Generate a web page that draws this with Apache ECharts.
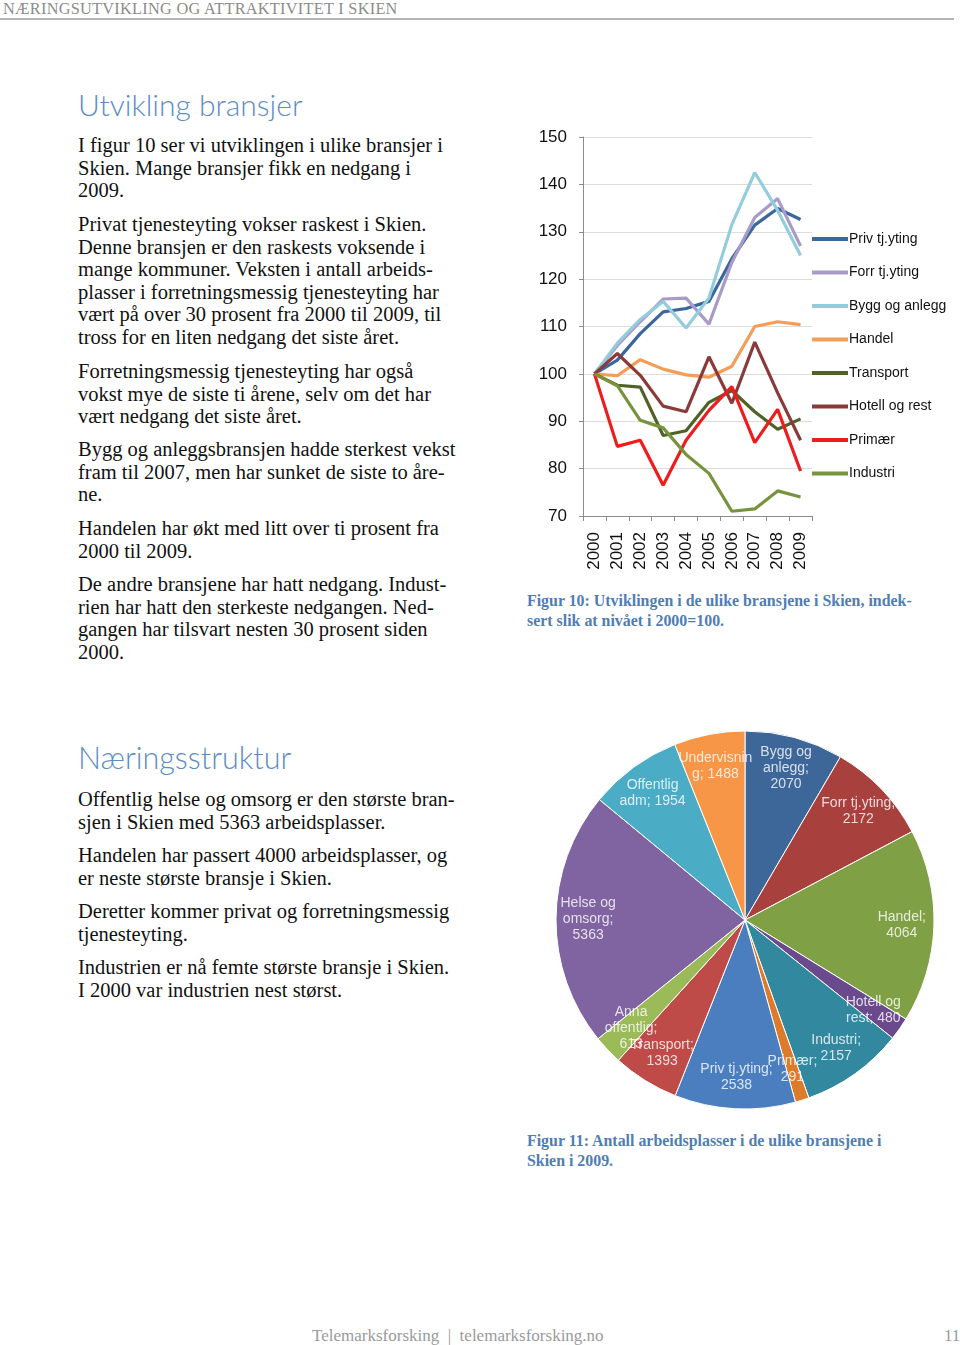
<!DOCTYPE html>
<html>
<head>
<meta charset="utf-8">
<script src="https://cdn.jsdelivr.net/npm/echarts@6/dist/echarts.min.js"></script>
<style>
  html, body { margin:0; padding:0; background:#fff; }
  body { width:960px; height:1345px; position:relative; overflow:hidden; }
  .hdr { position:absolute; left:3px; top:-1px; font-family:"Liberation Serif", serif; font-size:16.3px; color:#8c8c8c; white-space:nowrap; letter-spacing:0.28px; }
  .hline { position:absolute; left:0; top:18px; width:954px; height:2px; background:#b5b5b5; }
  .h1 { position:absolute; left:78px; font-family:Lato, "Open Sans", sans-serif; font-weight:300; color:#5b8cc4; white-space:nowrap; }
  .p { position:absolute; left:78px; font-family:"Liberation Serif", serif; font-size:20.5px; line-height:22.5px; color:#111; white-space:nowrap; }
  .cap { position:absolute; left:527px; font-family:"Liberation Serif", serif; font-weight:bold; font-size:15.9px; line-height:19.5px; color:#4f7db5; white-space:nowrap; }
  .foot { position:absolute; top:1326px; font-family:"Liberation Serif", serif; font-size:17px; color:#9a9a9a; white-space:nowrap; }
  #line { position:absolute; left:520px; top:120px; width:440px; height:470px; }
  #pie { position:absolute; left:540px; top:720px; width:420px; height:400px; }
</style>
</head>
<body>
<div class="hdr">NÆRINGSUTVIKLING OG ATTRAKTIVITET I SKIEN</div>
<div class="hline"></div>

<div class="h1" style="top:86px;font-size:30px;">Utvikling bransjer</div>
<div class="p" style="top:134px;">I figur 10 ser vi utviklingen i ulike bransjer i<br>Skien. Mange bransjer fikk en nedgang i<br>2009.</div>
<div class="p" style="top:213px;">Privat tjenesteyting vokser raskest i Skien.<br>Denne bransjen er den raskests voksende i<br>mange kommuner. Veksten i antall arbeids-<br>plasser i forretningsmessig tjenesteyting har<br>vært på over 30 prosent fra 2000 til 2009, til<br>tross for en liten nedgang det siste året.</div>
<div class="p" style="top:360px;">Forretningsmessig tjenesteyting har også<br>vokst mye de siste ti årene, selv om det har<br>vært nedgang det siste året.</div>
<div class="p" style="top:438px;">Bygg og anleggsbransjen hadde sterkest vekst<br>fram til 2007, men har sunket de siste to åre-<br>ne.</div>
<div class="p" style="top:517px;">Handelen har økt med litt over ti prosent fra<br>2000 til 2009.</div>
<div class="p" style="top:573px;">De andre bransjene har hatt nedgang. Indust-<br>rien har hatt den sterkeste nedgangen. Ned-<br>gangen har tilsvart nesten 30 prosent siden<br>2000.</div>

<div class="h1" style="top:739px;font-size:30.5px;">Næringsstruktur</div>
<div class="p" style="top:788px;">Offentlig helse og omsorg er den største bran-<br>sjen i Skien med 5363 arbeidsplasser.</div>
<div class="p" style="top:844px;">Handelen har passert 4000 arbeidsplasser, og<br>er neste største bransje i Skien.</div>
<div class="p" style="top:900px;">Deretter kommer privat og forretningsmessig<br>tjenesteyting.</div>
<div class="p" style="top:956px;">Industrien er nå femte største bransje i Skien.<br>I 2000 var industrien nest størst.</div>

<div id="line"></div>
<div class="cap" style="top:591px;">Figur 10: Utviklingen i de ulike bransjene i Skien, indek-<br>sert slik at nivået i 2000=100.</div>
<div id="pie"></div>
<div class="cap" style="top:1131px;">Figur 11: Antall arbeidsplasser i de ulike bransjene i<br>Skien i 2009.</div>

<div class="foot" style="left:312px;">Telemarksforsking &nbsp;|&nbsp; telemarksforsking.no</div>
<div class="foot" style="left:944px;">11</div>

<script>
// ---------- Figure 10 data ----------
const years = ['2000','2001','2002','2003','2004','2005','2006','2007','2008','2009'];
const lineNames = ['Priv tj.yting','Forr tj.yting','Bygg og anlegg','Handel','Transport','Hotell og rest','Primær','Industri'];
const privTjyting  = [100, 102.9, 108.5, 113.1, 113.8, 115.3, 124.3, 131.4, 134.9, 132.6];
const forrTjyting  = [100, 106.0, 111.0, 115.8, 116.0, 110.5, 123.5, 133.0, 137.0, 127.0];
const byggAnlegg   = [100, 106.5, 111.5, 115.3, 109.7, 116.0, 131.5, 142.5, 134.5, 125.0];
const handel       = [100, 99.6, 103.0, 101.0, 99.8, 99.3, 101.6, 110.0, 111.0, 110.4];
const transport    = [100, 97.6, 97.2, 87.0, 88.0, 94.0, 96.5, 92.0, 88.3, 90.5];
const hotellRest   = [100, 104.3, 99.7, 93.2, 92.0, 103.6, 93.8, 106.7, 96.0, 86.0];
const primaer      = [100, 84.7, 86.0, 76.5, 86.0, 92.3, 97.3, 85.5, 92.5, 79.5];
const industri     = [100, 97.5, 90.2, 88.6, 83.0, 79.0, 71.0, 71.5, 75.3, 74.0];
const lineValues = [privTjyting, forrTjyting, byggAnlegg, handel, transport, hotellRest, primaer, industri];
const lineColors = ['#3b679c','#a99bc9','#93cddd','#f59d56','#4f6228','#8b3a3a','#ee1c1c','#77933c'];
const yTicks = { min: 70, max: 150, step: 10 };

// ---------- Figure 11 data ----------
const pieNames  = ['Bygg og anlegg','Forr tj.yting','Handel','Hotell og rest','Industri','Primær','Priv tj.yting','Transport','Anna offentlig','Helse og omsorg','Offentlig adm','Undervisning'];
const pieValues = [2070, 2172, 4064, 480, 2157, 291, 2538, 1393, 613, 5363, 1954, 1488];
const pieLabels = ['Bygg og\nanlegg;\n2070','Forr tj.yting;\n2172','Handel;\n4064','Hotell og\nrest; 480','Industri;\n2157','Primær;\n291','Priv tj.yting;\n2538','Transport;\n1393','Anna\noffentlig;\n613','Helse og\nomsorg;\n5363','Offentlig\nadm; 1954','Undervisnin\ng; 1488'];
const pieColors = ['#3d6699','#a8403e','#80a045','#6a4a8d','#31889f','#de7b2b','#4a7ebf','#be4b48','#9bbb59','#8064a2','#4bacc6','#f79646'];

const font = '"Liberation Sans", Arial, sans-serif';

// ---------- Line chart ----------
const lc = echarts.init(document.getElementById('line'), null, { renderer: 'canvas' });
lc.setOption({
  animation: false,
  grid: { left: 63, top: 17, width: 229, height: 379, containLabel: false },
  legend: {
    orient: 'vertical', left: 287, top: 106,
    icon: 'rect', itemWidth: 36, itemHeight: 4, itemGap: 17.5,
    data: lineNames,
    textStyle: { fontFamily: font, fontSize: 14, color: '#111', lineHeight: 16, padding: [0,0,0,-4] }
  },
  xAxis: {
    type: 'category', data: years, boundaryGap: true,
    axisLine: { show: true, lineStyle: { color: '#8c8c8c', width: 1 } },
    axisTick: { show: true, length: 5, alignWithLabel: false, lineStyle: { color: '#8c8c8c' } },
    axisLabel: { rotate: 90, margin: 16, fontFamily: font, fontSize: 17, color: '#111' },
    splitLine: { show: false }
  },
  yAxis: {
    type: 'value', min: yTicks.min, max: yTicks.max, interval: yTicks.step,
    axisLine: { show: true, lineStyle: { color: '#8c8c8c', width: 1 } },
    axisTick: { show: true, length: 4, lineStyle: { color: '#8c8c8c' } },
    axisLabel: { margin: 16, fontFamily: font, fontSize: 17, color: '#111' },
    splitLine: { show: true, lineStyle: { color: '#dcdcdc', width: 1 } }
  },
  series: lineNames.map((n, i) => ({
    name: n, type: 'line', data: lineValues[i],
    showSymbol: false, symbol: 'none',
    lineStyle: { color: lineColors[i], width: 3.2 },
    itemStyle: { color: lineColors[i] }
  }))
});

// ---------- Pie chart ----------
const pc = echarts.init(document.getElementById('pie'), null, { renderer: 'canvas' });
const pieTotal = pieValues.reduce((a, b) => a + b, 0);
// label anchor: middle of each slice in value units along the polar angle axis
let run = 0;
const labelPoints = pieValues.map((v, i) => { const mid = run + v / 2; run += v; return { value: [0.83, mid], idx: i }; });
const CENTER = [205, 200], RADIUS = 189;
pc.setOption({
  animation: false,
  polar: { center: CENTER, radius: RADIUS },
  angleAxis: { type: 'value', min: 0, max: pieTotal, startAngle: 90, clockwise: true, show: false, axisLine:{show:false}, splitLine:{show:false}, axisLabel:{show:false}, axisTick:{show:false} },
  radiusAxis: { type: 'value', min: 0, max: 1, show: false, axisLine:{show:false}, splitLine:{show:false}, axisLabel:{show:false}, axisTick:{show:false} },
  series: [
    {
      type: 'pie', center: CENTER, radius: [0, RADIUS], startAngle: 90, clockwise: true,
      data: pieNames.map((n, i) => ({ name: n, value: pieValues[i], itemStyle: { color: pieColors[i] } })),
      itemStyle: { borderColor: '#ffffff', borderWidth: 1 },
      label: { show: false }, labelLine: { show: false }, silent: true
    },
    {
      type: 'scatter', coordinateSystem: 'polar', z: 10,
      data: labelPoints,
      symbolSize: 1, itemStyle: { color: 'rgba(0,0,0,0)' }, silent: true,
      label: {
        show: true, position: 'inside',
        formatter: p => pieLabels[p.data.idx],
        fontFamily: font, fontSize: 14, lineHeight: 16, color: '#ffffff', align: 'center', verticalAlign: 'middle'
      },
      labelLayout: { hideOverlap: false }
    }
  ]
});
</script>
</body>
</html>
